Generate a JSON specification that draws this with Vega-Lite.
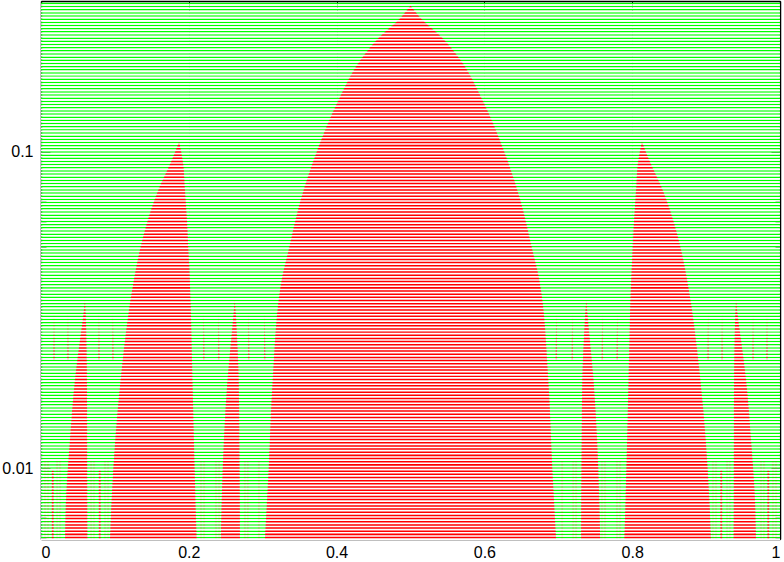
{
  "$schema": "https://vega.github.io/schema/vega-lite/v6.json",
  "width": 739,
  "height": 538,
  "autosize": {"type": "none"},
  "padding": {"left": 41, "top": 1, "right": 3, "bottom": 22},
  "background": "white",
  "config": {
    "view": {"stroke": null},
    "axis": {"labelFont": "Liberation Sans", "labelFontSize": 16, "labelColor": "#000", "tickColor": "#000", "domainColor": "#000", "domainWidth": 1.5, "tickWidth": 1, "zindex": 1, "grid": false}
  },
  "datasets": {
    "lines": [
      {"v":0.006026},{"v":0.006166},{"v":0.00631},{"v":0.006457},{"v":0.006607},{"v":0.006761},{"v":0.006918},{"v":0.007079},{"v":0.007244},{"v":0.007413},{"v":0.007586},{"v":0.007762},{"v":0.007943},{"v":0.008128},{"v":0.008318},{"v":0.008511},{"v":0.00871},{"v":0.008913},{"v":0.00912},{"v":0.009333},{"v":0.00955},{"v":0.009772},
      {"v":0.01},{"v":0.01023},{"v":0.01047},{"v":0.01072},{"v":0.01096},{"v":0.01122},{"v":0.01148},{"v":0.01175},{"v":0.01202},{"v":0.0123},{"v":0.01259},{"v":0.01288},{"v":0.01318},{"v":0.01349},{"v":0.0138},{"v":0.01413},{"v":0.01445},{"v":0.01479},{"v":0.01514},{"v":0.01549},{"v":0.01585},{"v":0.01622},{"v":0.0166},{"v":0.01698},{"v":0.01738},{"v":0.01778},{"v":0.0182},{"v":0.01862},{"v":0.01905},{"v":0.0195},{"v":0.01995},{"v":0.02042},{"v":0.02089},{"v":0.02138},{"v":0.02188},{"v":0.02239},{"v":0.02291},{"v":0.02344},{"v":0.02399},{"v":0.02455},{"v":0.02512},{"v":0.0257},{"v":0.0263},{"v":0.02692},{"v":0.02754},{"v":0.02818},{"v":0.02884},{"v":0.02951},{"v":0.0302},{"v":0.0309},{"v":0.03162},{"v":0.03236},{"v":0.03311},{"v":0.03388},{"v":0.03467},{"v":0.03548},{"v":0.03631},{"v":0.03715},{"v":0.03802},{"v":0.0389},{"v":0.03981},{"v":0.04074},{"v":0.04169},{"v":0.04266},{"v":0.04365},{"v":0.04467},{"v":0.04571},{"v":0.04677},{"v":0.04786},{"v":0.04898},{"v":0.05012},{"v":0.05129},{"v":0.05248},{"v":0.0537},{"v":0.05495},{"v":0.05623},{"v":0.05754},{"v":0.05888},{"v":0.06026},{"v":0.06166},{"v":0.0631},{"v":0.06457},{"v":0.06607},{"v":0.06761},{"v":0.06918},{"v":0.07079},{"v":0.07244},{"v":0.07413},{"v":0.07586},{"v":0.07762},{"v":0.07943},{"v":0.08128},{"v":0.08318},{"v":0.08511},{"v":0.0871},{"v":0.08913},{"v":0.0912},{"v":0.09333},{"v":0.0955},{"v":0.09772},
      {"v":0.1},{"v":0.1023},{"v":0.1047},{"v":0.1072},{"v":0.1096},{"v":0.1122},{"v":0.1148},{"v":0.1175},{"v":0.1202},{"v":0.123},{"v":0.1259},{"v":0.1288},{"v":0.1318},{"v":0.1349},{"v":0.138},{"v":0.1413},{"v":0.1445},{"v":0.1479},{"v":0.1514},{"v":0.1549},{"v":0.1585},{"v":0.1622},{"v":0.166},{"v":0.1698},{"v":0.1738},{"v":0.1778},{"v":0.182},{"v":0.1862},{"v":0.1905},{"v":0.195},{"v":0.1995},{"v":0.2042},{"v":0.2089},{"v":0.2138},{"v":0.2188},{"v":0.2239},{"v":0.2291},{"v":0.2344},{"v":0.2399},{"v":0.2455},{"v":0.2512},{"v":0.257},{"v":0.263},{"v":0.2692},{"v":0.2754},{"v":0.2818},{"v":0.2884},{"v":0.2951}
    ],
    "arches": [
      {"g":"M","v":0.0058,"xl":0.3027,"xr":0.6973},
      {"g":"M","v":0.01,"xl":0.3081,"xr":0.6919},
      {"g":"M","v":0.019,"xl":0.3135,"xr":0.6865},
      {"g":"M","v":0.0394,"xl":0.3257,"xr":0.6743},
      {"g":"M","v":0.049,"xl":0.3351,"xr":0.6649},
      {"g":"M","v":0.0705,"xl":0.3514,"xr":0.6486},
      {"g":"M","v":0.1,"xl":0.373,"xr":0.627},
      {"g":"M","v":0.1461,"xl":0.4027,"xr":0.5973},
      {"g":"M","v":0.1955,"xl":0.4324,"xr":0.5676},
      {"g":"M","v":0.2295,"xl":0.4568,"xr":0.5432},
      {"g":"M","v":0.2655,"xl":0.4865,"xr":0.5135},
      {"g":"M","v":0.29,"xl":0.5,"xr":0.5},
      {"g":"SL","v":0.0058,"xl":0.0932,"xr":0.2108},
      {"g":"SL","v":0.0079,"xl":0.0955,"xr":0.209},
      {"g":"SL","v":0.019,"xl":0.1077,"xr":0.205},
      {"g":"SL","v":0.0394,"xl":0.1257,"xr":0.2014},
      {"g":"SL","v":0.049,"xl":0.1338,"xr":0.1995},
      {"g":"SL","v":0.0609,"xl":0.1446,"xr":0.1975},
      {"g":"SL","v":0.0769,"xl":0.1599,"xr":0.1946},
      {"g":"SL","v":0.0923,"xl":0.1753,"xr":0.1923},
      {"g":"SL","v":0.1078,"xl":0.1869,"xr":0.1869},
      {"g":"SR","v":0.0058,"xl":0.7892,"xr":0.9068},
      {"g":"SR","v":0.0079,"xl":0.791,"xr":0.9045},
      {"g":"SR","v":0.019,"xl":0.795,"xr":0.8923},
      {"g":"SR","v":0.0394,"xl":0.7986,"xr":0.8743},
      {"g":"SR","v":0.049,"xl":0.8005,"xr":0.8662},
      {"g":"SR","v":0.0609,"xl":0.8025,"xr":0.8554},
      {"g":"SR","v":0.0769,"xl":0.8054,"xr":0.8401},
      {"g":"SR","v":0.0923,"xl":0.8077,"xr":0.8247},
      {"g":"SR","v":0.1078,"xl":0.8131,"xr":0.8131},
      {"g":"S1","v":0.0058,"xl":0.0324,"xr":0.0628},
      {"g":"S1","v":0.0079,"xl":0.0338,"xr":0.0626},
      {"g":"S1","v":0.0123,"xl":0.0392,"xr":0.0624},
      {"g":"S1","v":0.019,"xl":0.0459,"xr":0.0622},
      {"g":"S1","v":0.0254,"xl":0.0527,"xr":0.0615},
      {"g":"S1","v":0.0294,"xl":0.0565,"xr":0.0608},
      {"g":"S1","v":0.034,"xl":0.0595,"xr":0.0595},
      {"g":"S2","v":0.0058,"xl":0.2432,"xr":0.2692},
      {"g":"S2","v":0.0079,"xl":0.2445,"xr":0.269},
      {"g":"S2","v":0.0123,"xl":0.2475,"xr":0.2684},
      {"g":"S2","v":0.019,"xl":0.2523,"xr":0.2676},
      {"g":"S2","v":0.0254,"xl":0.2573,"xr":0.2655},
      {"g":"S2","v":0.0294,"xl":0.2598,"xr":0.2641},
      {"g":"S2","v":0.034,"xl":0.2622,"xr":0.2622},
      {"g":"S3","v":0.0058,"xl":0.7308,"xr":0.7568},
      {"g":"S3","v":0.0079,"xl":0.731,"xr":0.7555},
      {"g":"S3","v":0.0123,"xl":0.7316,"xr":0.7525},
      {"g":"S3","v":0.019,"xl":0.7324,"xr":0.7477},
      {"g":"S3","v":0.0254,"xl":0.7345,"xr":0.7427},
      {"g":"S3","v":0.0294,"xl":0.7359,"xr":0.7402},
      {"g":"S3","v":0.034,"xl":0.7378,"xr":0.7378},
      {"g":"S4","v":0.0058,"xl":0.9372,"xr":0.9676},
      {"g":"S4","v":0.0079,"xl":0.9374,"xr":0.9662},
      {"g":"S4","v":0.0123,"xl":0.9376,"xr":0.9608},
      {"g":"S4","v":0.019,"xl":0.9378,"xr":0.9541},
      {"g":"S4","v":0.0254,"xl":0.9385,"xr":0.9473},
      {"g":"S4","v":0.0294,"xl":0.9392,"xr":0.9435},
      {"g":"S4","v":0.034,"xl":0.9405,"xr":0.9405}
    ],
    "spikes": [
      {"g":"a1","v":0.022,"xl":0.0165,"xr":0.0187},{"g":"a1","v":0.031,"xl":0.0176,"xr":0.0176},
      {"g":"a2","v":0.022,"xl":0.0354,"xr":0.0376},{"g":"a2","v":0.031,"xl":0.0365,"xr":0.0365},
      {"g":"a3","v":0.022,"xl":0.0773,"xr":0.0795},{"g":"a3","v":0.031,"xl":0.0784,"xr":0.0784},
      {"g":"a4","v":0.022,"xl":0.0962,"xr":0.0984},{"g":"a4","v":0.031,"xl":0.0973,"xr":0.0973},
      {"g":"a5","v":0.022,"xl":0.2192,"xr":0.2214},{"g":"a5","v":0.031,"xl":0.2203,"xr":0.2203},
      {"g":"a6","v":0.022,"xl":0.2394,"xr":0.2416},{"g":"a6","v":0.031,"xl":0.2405,"xr":0.2405},
      {"g":"a7","v":0.022,"xl":0.28,"xr":0.2822},{"g":"a7","v":0.031,"xl":0.2811,"xr":0.2811},
      {"g":"a8","v":0.022,"xl":0.3016,"xr":0.3038},{"g":"a8","v":0.031,"xl":0.3027,"xr":0.3027},
      {"g":"b1","v":0.022,"xl":0.6962,"xr":0.6984},{"g":"b1","v":0.031,"xl":0.6973,"xr":0.6973},
      {"g":"b2","v":0.022,"xl":0.7178,"xr":0.72},{"g":"b2","v":0.031,"xl":0.7189,"xr":0.7189},
      {"g":"b3","v":0.022,"xl":0.7584,"xr":0.7606},{"g":"b3","v":0.031,"xl":0.7595,"xr":0.7595},
      {"g":"b4","v":0.022,"xl":0.7786,"xr":0.7808},{"g":"b4","v":0.031,"xl":0.7797,"xr":0.7797},
      {"g":"b5","v":0.022,"xl":0.9016,"xr":0.9038},{"g":"b5","v":0.031,"xl":0.9027,"xr":0.9027},
      {"g":"b6","v":0.022,"xl":0.9205,"xr":0.9227},{"g":"b6","v":0.031,"xl":0.9216,"xr":0.9216},
      {"g":"b7","v":0.022,"xl":0.9624,"xr":0.9646},{"g":"b7","v":0.031,"xl":0.9635,"xr":0.9635},
      {"g":"b8","v":0.022,"xl":0.9813,"xr":0.9835},{"g":"b8","v":0.031,"xl":0.9824,"xr":0.9824}
    ],
    "bars": [
      {"kind":"solid","x1":0.0146,"x2":0.0171,"v1":0.0058,"v2":0.0098},
      {"kind":"solid","x1":0.0782,"x2":0.0807,"v1":0.0058,"v2":0.0098},
      {"kind":"solid","x1":0.9193,"x2":0.9218,"v1":0.0058,"v2":0.0098},
      {"kind":"solid","x1":0.9829,"x2":0.9854,"v1":0.0058,"v2":0.0098},
      {"kind":"pale","x1":0.0048,"x2":0.006,"v1":0.0058,"v2":0.0105},
      {"kind":"pale","x1":0.0089,"x2":0.0101,"v1":0.0058,"v2":0.0105},
      {"kind":"pale","x1":0.0211,"x2":0.0223,"v1":0.0058,"v2":0.0105},
      {"kind":"pale","x1":0.0251,"x2":0.0263,"v1":0.0058,"v2":0.0105},
      {"kind":"pale","x1":0.0671,"x2":0.0683,"v1":0.0058,"v2":0.0105},
      {"kind":"pale","x1":0.0711,"x2":0.0723,"v1":0.0058,"v2":0.0105},
      {"kind":"pale","x1":0.086,"x2":0.0872,"v1":0.0058,"v2":0.0105},
      {"kind":"pale","x1":0.0901,"x2":0.0913,"v1":0.0058,"v2":0.0105},
      {"kind":"pale","x1":0.2159,"x2":0.2171,"v1":0.0058,"v2":0.0105},
      {"kind":"pale","x1":0.22,"x2":0.2212,"v1":0.0058,"v2":0.0105},
      {"kind":"pale","x1":0.2362,"x2":0.2374,"v1":0.0058,"v2":0.0105},
      {"kind":"pale","x1":0.2403,"x2":0.2415,"v1":0.0058,"v2":0.0105},
      {"kind":"pale","x1":0.2754,"x2":0.2766,"v1":0.0058,"v2":0.0105},
      {"kind":"pale","x1":0.2794,"x2":0.2806,"v1":0.0058,"v2":0.0105},
      {"kind":"pale","x1":0.2943,"x2":0.2955,"v1":0.0058,"v2":0.0105},
      {"kind":"pale","x1":0.9940,"x2":0.9952,"v1":0.0058,"v2":0.0105},
      {"kind":"pale","x1":0.9899,"x2":0.9911,"v1":0.0058,"v2":0.0105},
      {"kind":"pale","x1":0.9777,"x2":0.9789,"v1":0.0058,"v2":0.0105},
      {"kind":"pale","x1":0.9737,"x2":0.9749,"v1":0.0058,"v2":0.0105},
      {"kind":"pale","x1":0.9317,"x2":0.9329,"v1":0.0058,"v2":0.0105},
      {"kind":"pale","x1":0.9277,"x2":0.9289,"v1":0.0058,"v2":0.0105},
      {"kind":"pale","x1":0.9128,"x2":0.914,"v1":0.0058,"v2":0.0105},
      {"kind":"pale","x1":0.9087,"x2":0.9099,"v1":0.0058,"v2":0.0105},
      {"kind":"pale","x1":0.7829,"x2":0.7841,"v1":0.0058,"v2":0.0105},
      {"kind":"pale","x1":0.7788,"x2":0.78,"v1":0.0058,"v2":0.0105},
      {"kind":"pale","x1":0.7626,"x2":0.7638,"v1":0.0058,"v2":0.0105},
      {"kind":"pale","x1":0.7585,"x2":0.7597,"v1":0.0058,"v2":0.0105},
      {"kind":"pale","x1":0.7234,"x2":0.7246,"v1":0.0058,"v2":0.0105},
      {"kind":"pale","x1":0.7194,"x2":0.7206,"v1":0.0058,"v2":0.0105},
      {"kind":"pale","x1":0.7045,"x2":0.7057,"v1":0.0058,"v2":0.0105}
    ]
  },
  "resolve": {"axis": {"x": "independent", "y": "independent"}},
  "layer": [
    {
      "data": {"name": "lines"},
      "mark": {"type": "rule", "color": "#00ff00", "strokeWidth": 1.5},
      "encoding": {
        "y": {"field": "v", "type": "quantitative",
              "scale": {"type": "log", "domain": [0.005962, 0.3004], "nice": false, "zero": false},
              "axis": {"title": null, "orient": "left", "values": [0.01, 0.1], "format": "~g", "ticks": false, "domain": true, "labelPadding": 8}}
      }
    },
    {
      "data": {"name": "arches"},
      "transform": [{"filter": "datum.g == 'M'"}],
      "mark": {"type": "area", "orient": "horizontal", "color": "#ff0000", "interpolate": "monotone", "clip": true},
      "encoding": {
        "y": {"field": "v", "type": "quantitative", "axis": {"title": null, "orient": "left", "values": [0.01, 0.1], "labels": false, "domain": false, "tickSize": -9}},
        "x": {"field": "xl", "type": "quantitative", "scale": {"domain": [0, 1], "nice": false, "zero": false},
              "axis": {"title": null, "orient": "bottom", "values": [0, 0.2, 0.4, 0.6, 0.8, 1], "format": "~g", "ticks": false, "domain": true, "labelPadding": 5, "grid": true, "gridColor": "#777", "gridDash": [1, 2], "gridWidth": 0.8}},
        "x2": {"field": "xr"}
      }
    },
    {
      "data": {"name": "arches"},
      "transform": [{"filter": "datum.g != 'M'"}],
      "mark": {"type": "area", "orient": "horizontal", "color": "#ff0000", "interpolate": "monotone", "clip": true},
      "encoding": {
        "detail": {"field": "g"},
        "y": {"field": "v", "type": "quantitative", "axis": {"title": null, "orient": "left", "values": [0.006, 0.007, 0.008, 0.009, 0.02, 0.03, 0.04, 0.05, 0.06, 0.07, 0.08, 0.09, 0.2, 0.3], "labels": false, "domain": false, "tickSize": -5}},
        "x": {"field": "xl", "type": "quantitative", "axis": {"title": null, "orient": "bottom", "values": [0, 0.2, 0.4, 0.6, 0.8, 1], "labels": false, "domain": false, "tickSize": -9}},
        "x2": {"field": "xr"}
      }
    },
    {
      "data": {"name": "spikes"},
      "mark": {"type": "area", "orient": "horizontal", "color": "#ff0000", "fillOpacity": 0.75, "clip": true},
      "encoding": {
        "detail": {"field": "g"},
        "y": {"field": "v", "type": "quantitative", "axis": {"title": null, "orient": "right", "values": [0.01, 0.1], "labels": false, "domain": true, "tickSize": -9}},
        "x": {"field": "xl", "type": "quantitative", "axis": {"title": null, "orient": "top", "values": [0, 0.2, 0.4, 0.6, 0.8, 1], "labels": false, "domain": true, "tickSize": -9}},
        "x2": {"field": "xr"}
      }
    },
    {
      "data": {"name": "bars"},
      "transform": [{"filter": "datum.kind == 'solid'"}],
      "mark": {"type": "rect", "color": "#ff0000", "clip": true},
      "encoding": {
        "y": {"field": "v1", "type": "quantitative", "axis": {"title": null, "orient": "right", "values": [0.006, 0.007, 0.008, 0.009, 0.02, 0.03, 0.04, 0.05, 0.06, 0.07, 0.08, 0.09, 0.2, 0.3], "labels": false, "domain": false, "tickSize": -5}},
        "y2": {"field": "v2"},
        "x": {"field": "x1", "type": "quantitative", "axis": null},
        "x2": {"field": "x2"}
      }
    },
    {
      "data": {"name": "bars"},
      "transform": [{"filter": "datum.kind == 'pale'"}],
      "mark": {"type": "rect", "color": "#ff0000", "opacity": 0.45, "clip": true},
      "encoding": {
        "y": {"field": "v1", "type": "quantitative", "axis": null},
        "y2": {"field": "v2"},
        "x": {"field": "x1", "type": "quantitative", "axis": null},
        "x2": {"field": "x2"}
      }
    },
    {
      "data": {"name": "lines"},
      "mark": {"type": "rule", "color": "#ffffff", "strokeWidth": 1.66, "yOffset": 1.58},
      "encoding": {
        "y": {"field": "v", "type": "quantitative", "axis": null}
      }
    }
  ]
}
